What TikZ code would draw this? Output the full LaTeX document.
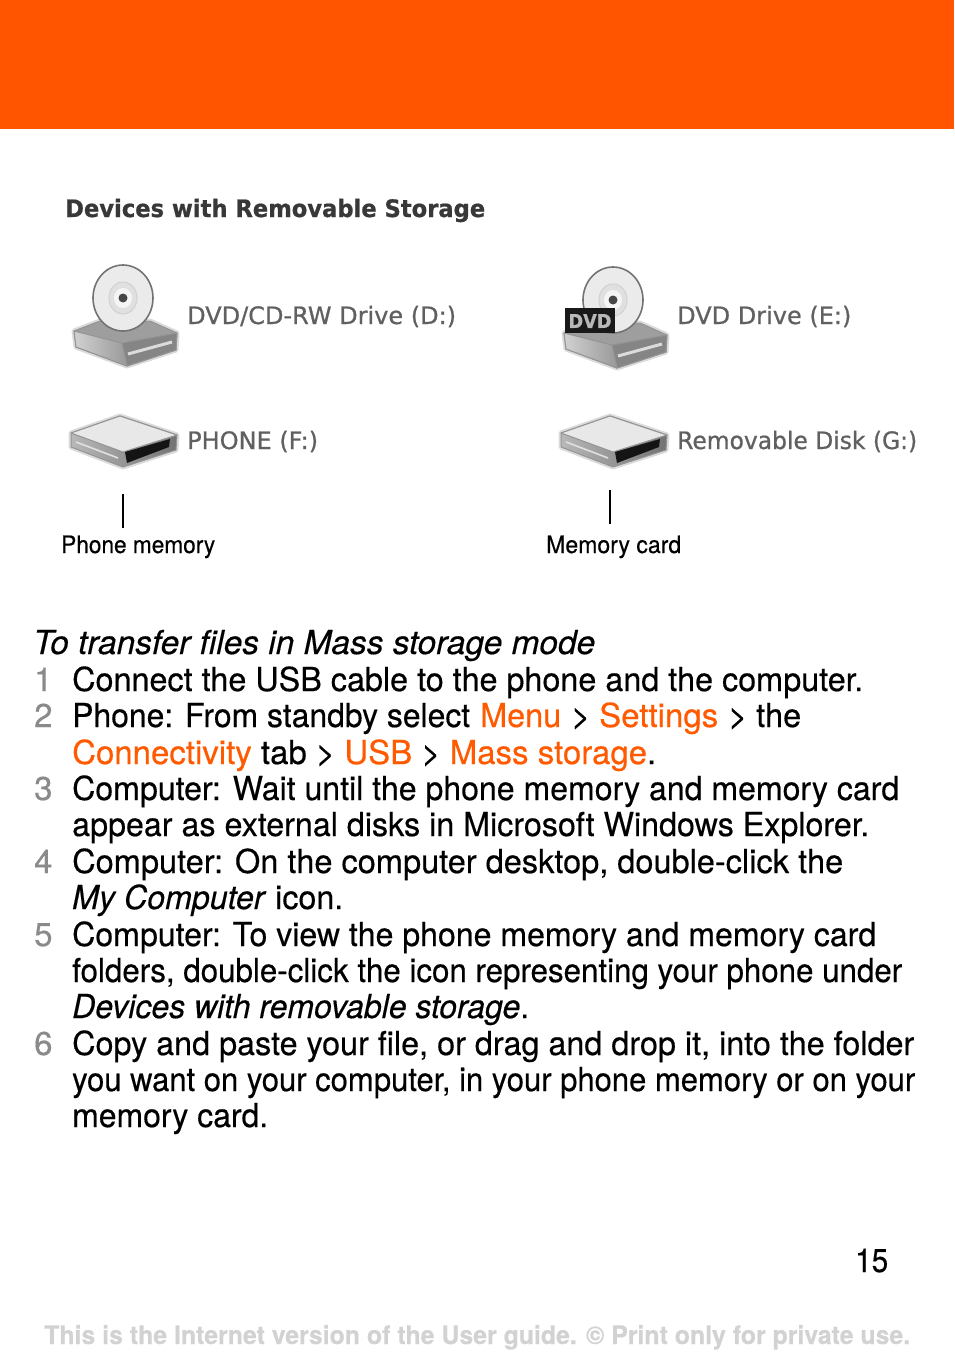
\documentclass[tikz,border=0pt]{standalone}
\usepackage{graphicx}
\usepackage{fontspec}
\setmainfont[RawFeature={embolden=0.4}]{TeX Gyre Heros}
\newfontfamily\shotfont[RawFeature={embolden=0.8}]{DejaVu Sans}
\definecolor{bandorange}{HTML}{FF5500}
\definecolor{menuorange}{HTML}{FF5A00}
\definecolor{numgray}{HTML}{8A8A8A}
\definecolor{footgray}{HTML}{D2D2D2}
\definecolor{shotgray}{HTML}{606060}
\newcommand{\mn}[1]{\textcolor{menuorange}{#1}}
\newcommand{\fitw}[2]{\resizebox{#1pt}{\height}{#2}}
\tikzset{
  x=1pt,y=-1pt,
  line/.style={anchor=base west,inner sep=0pt,font=\fontsize{33}{36}\selectfont,text=black},
  num/.style={anchor=base west,inner sep=0pt,font=\fontsize{33}{36}\selectfont,text=numgray},
  shot/.style={anchor=base west,inner sep=0pt,font=\shotfont\fontsize{24}{26}\selectfont,text=shotgray},
  shothead/.style={anchor=base west,inner sep=0pt,font=\shotfont\bfseries\fontsize{24}{26}\selectfont,text=black!78},
  callout/.style={anchor=base west,inner sep=0pt,font=\fontsize{24}{26}\selectfont,text=black},
  tick/.style={draw=black,line width=1.6pt},
  soft/.style={preaction={draw=black,draw opacity=.14,line width=5pt,line join=round}},
  driveline/.style={draw=black!42,line width=1pt,line join=round},
  pics/optdrive/.style={code={
    \draw[driveline,soft,fill=black!38] (74,331) -- (100,321) -- (150,321) -- (177,333) -- (176,350) -- (127,366) -- (76,347) -- cycle;
    \draw[driveline,fill=black!48] (122,343) -- (177,333) -- (176,350) -- (127,366) -- cycle;
    \draw[driveline,left color=black!18,right color=black!40] (74,331) -- (122,343) -- (127,366) -- (76,347) -- cycle;
    \draw[draw=black!55,line width=1.6pt,fill=black!8] (123,298) ellipse[x radius=30,y radius=33];
    \draw[draw=black!18,line width=1pt,fill=black!12] (123,298) ellipse[x radius=14,y radius=16];
    \fill[black!4] (123,298) ellipse[x radius=9,y radius=10];
    \fill[black!72] (123,298) circle[radius=4.5];
    \draw[draw=black!14,line width=3pt] (128,354) -- (172,342);
  }},
  pics/flatdrive/.style={code={
    \draw[driveline,soft,left color=black!28,right color=black!55] (71,433) -- (120,416) -- (177,435) -- (176,450) -- (123,467) -- (71,447) -- cycle;
    \draw[driveline,fill=black!9] (71,433) -- (120,416) -- (177,435) -- (123,452) -- cycle;
    \fill[black!92] (125,452) -- (170,439) -- (169,447) -- (127,463) -- cycle;
    \draw[draw=black!12,line width=1.6pt] (76,442) -- (118,458);
  }}
}
\begin{document}
\begin{tikzpicture}
\useasboundingbox (0,0) rectangle (954,1354);
\fill[bandorange] (0,0) rectangle (954,129);
% screenshot
\node[shothead] (head) at (65,217) {\fitw{420}{Devices with Removable Storage}};
\pic {optdrive};
\pic at (490,2) {optdrive};
\fill[black!90] (565,308) rectangle (615,333);
\node[inner sep=0pt,font=\shotfont\bfseries\fontsize{19}{20}\selectfont,text=black!28] (dvdbadge) at (590,321) {\fitw{43}{DVD}};
\pic {flatdrive};
\pic at (490,0) {flatdrive};
\node[shot] (d) at (187,324) {DVD/CD-RW Drive (D:)};
\node[shot] (e) at (677,324) {DVD Drive (E:)};
\node[shot] (f) at (187,449) {PHONE (F:)};
\node[shot] (g) at (677,449) {\fitw{240}{Removable Disk (G:)}};
% callouts
\node[callout] (pm) at (61,553) {\fitw{154}{Phone memory}};
\node[callout] (mc) at (546,553) {\fitw{135}{Memory card}};
\coordinate (pmtop) at (123,494);
\coordinate (pmbot) at (123,528);
\coordinate (mctop) at (610,490);
\coordinate (mcbot) at (610,524);
\draw[tick] (pmtop) -- (pmbot);
\draw[tick] (mctop) -- (mcbot);
% text
\node[line,font=\itshape\fontsize{33}{36}\selectfont] (title) at (33,654) {\fitw{562}{To transfer files in Mass storage mode}};
\node[num] (n1) at (34,691) {1};
\node[line] (l1) at (72,691) {\fitw{791}{Connect the USB cable to the phone and the computer.}};
\node[num] (n2) at (34,727) {2};
\node[line] (l2a) at (72,727) {\fitw{398}{Phone: From standby select}};
\node[line] (l2b) at (480,727) {\fitw{81}{\mn{Menu}}};
\node[line] (l2c) at (571,727) {>};
\node[line] (l2d) at (599,727) {\fitw{119}{\mn{Settings}}};
\node[line] (l2e) at (728,727) {>};
\node[line] (l2f) at (756,727) {\fitw{45}{the}};
\node[line] (l3) at (72,764) {\fitw{584}{\mn{Connectivity} tab > \mn{USB} > \mn{Mass storage}.}};
\node[num] (n3) at (34,800) {3};
\node[line] (l4) at (72,800) {\fitw{827}{Computer: Wait until the phone memory and memory card}};
\node[line] (l5) at (72,836) {\fitw{797}{appear as external disks in Microsoft Windows Explorer.}};
\node[num] (n4) at (34,873) {4};
\node[line] (l6) at (72,873) {\fitw{771}{Computer: On the computer desktop, double-click the}};
\node[line] (l7) at (72,909) {\fitw{271}{\textit{My Computer} icon.}};
\node[num] (n5) at (34,946) {5};
\node[line] (l8) at (72,946) {\fitw{804}{Computer: To view the phone memory and memory card}};
\node[line] (l9) at (72,982) {\fitw{830}{folders, double-click the icon representing your phone under}};
\node[line] (l10) at (72,1018) {\fitw{457}{\textit{Devices with removable storage}.}};
\node[num] (n6) at (34,1055) {6};
\node[line] (l11) at (72,1055) {\fitw{842}{Copy and paste your file, or drag and drop it, into the folder}};
\node[line] (l12) at (72,1091) {\fitw{843}{you want on your computer, in your phone memory or on your}};
\node[line] (l13) at (72,1127) {\fitw{196}{memory card.}};
\node[line] (page) at (855,1272) {\fitw{33}{15}};
\node[anchor=base west,inner sep=0pt,font=\bfseries\fontsize{25.5}{28}\selectfont,text=footgray] (foot) at (44,1344) {\fitw{866}{This is the Internet version of the User guide. © Print only for private use.}};
\end{tikzpicture}
\end{document}
